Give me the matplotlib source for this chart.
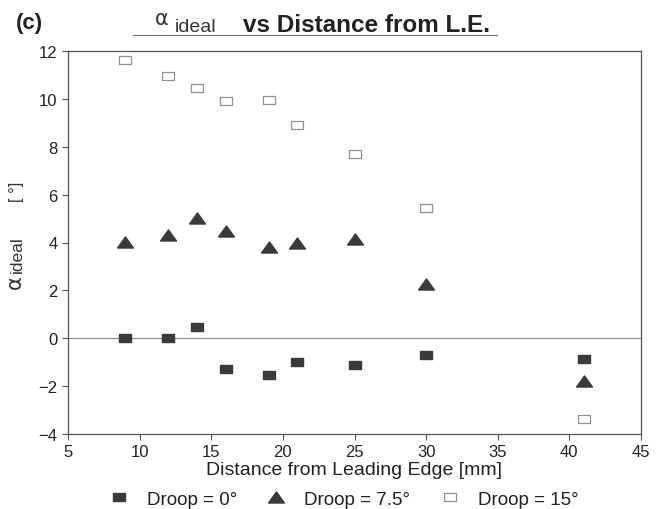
import matplotlib
matplotlib.use("Agg")
import matplotlib.pyplot as plt
from matplotlib.lines import Line2D

plt.rcParams['font.family'] = ['Liberation Sans', 'DejaVu Sans']

# distance from leading edge [mm]
dist = [9, 12, 14, 16, 19, 21, 25, 30, 41]

# alpha_ideal [deg] for each droop
droop_0 = [0.0, 0.0, 0.46, -1.3, -1.52, -0.99, -1.12, -0.70, -0.87]
droop_75 = [4.03, 4.33, 5.02, 4.49, 3.83, 3.99, 4.13, 2.27, -1.80]
droop_15 = [11.62, 10.97, 10.46, 9.92, 9.94, 8.9, 7.71, 5.46, -3.38]

labels = ['Droop = 0°', 'Droop = 7.5°', 'Droop = 15°']
xticks = [5, 10, 15, 20, 25, 30, 35, 40, 45]
yticks = [-4, -2, 0, 2, 4, 6, 8, 10, 12]

dark = '#3a3a3a'
rect = [(-1, -0.72), (1, -0.72), (1, 0.72), (-1, 0.72), (-1, -0.72)]
tri = [(-1, -0.69), (1, -0.69), (0, 0.69), (-1, -0.69)]

fig = plt.figure(figsize=(6.68, 5.10), dpi=100)
ax = fig.add_axes([68 / 668, 75 / 510, (641 - 68) / 668, (435 - 52) / 510])

ax.axhline(0, color='#888888', lw=0.8, zorder=1)

ax.plot(dist, droop_0, ls='none', marker=rect, ms=8, color=dark, mec=dark, label=labels[0], zorder=3)
ax.plot(dist, droop_75, ls='none', marker=tri, ms=11.5, color=dark, mec=dark, label=labels[1], zorder=3)
ax.plot(dist, droop_15, ls='none', marker=rect, ms=8.5, mfc='white', mec='#909090', mew=0.9,
        label=labels[2], zorder=3)

ax.set_xlim(5, 45)
ax.set_ylim(-4, 12)
ax.set_xticks(xticks)
ax.set_yticks(yticks)
ax.tick_params(direction='out', length=4, width=0.8, color='#555555', labelsize=12, labelcolor='#222222')
for s in ax.spines.values():
    s.set_color('#555555')
    s.set_linewidth(0.9)

ax.set_xlabel('Distance from Leading Edge [mm]', fontsize=14, color='#222222', labelpad=1)

# y label pieces
fig.text(15 / 668, 1 - 282 / 510, 'α', fontsize=15, rotation=90, ha='center', va='center', color='#333333',
         family=['DejaVu Sans'])
fig.text(17 / 668, 1 - 255 / 510, 'ideal', fontsize=12.5, rotation=90, ha='center', va='center', color='#333333')
fig.text(16 / 668, 1 - 192 / 510, '[ °]', fontsize=12, rotation=90, ha='center', va='center', color='#333333')

# title pieces
fig.text(29 / 668, 1 - 23 / 510, '(c)', fontsize=16, fontweight='bold', ha='center', va='center', color='#222222')
fig.text(162 / 668, 1 - 19 / 510, 'α', fontsize=15, ha='center', va='center', color='#333333',
         family=['DejaVu Sans'])
fig.text(196 / 668, 1 - 32 / 510, 'ideal', fontsize=14, ha='center', va='baseline', color='#333333')
fig.text(366 / 668, 1 - 32 / 510, 'vs Distance from L.E.', fontsize=17.5, fontweight='bold',
         ha='center', va='baseline', color='#222222')
fig.add_artist(Line2D([133 / 668, 497 / 668], [1 - 36 / 510, 1 - 36 / 510], color='#777777', lw=0.9))

fig.legend(loc='center', bbox_to_anchor=(343 / 668, 1 - 500 / 510), ncol=3, frameon=False, fontsize=13.5,
           handlelength=1.2, handletextpad=0.9, columnspacing=1.5, labelcolor='#222222')

fig.savefig('out.png', dpi=100)
